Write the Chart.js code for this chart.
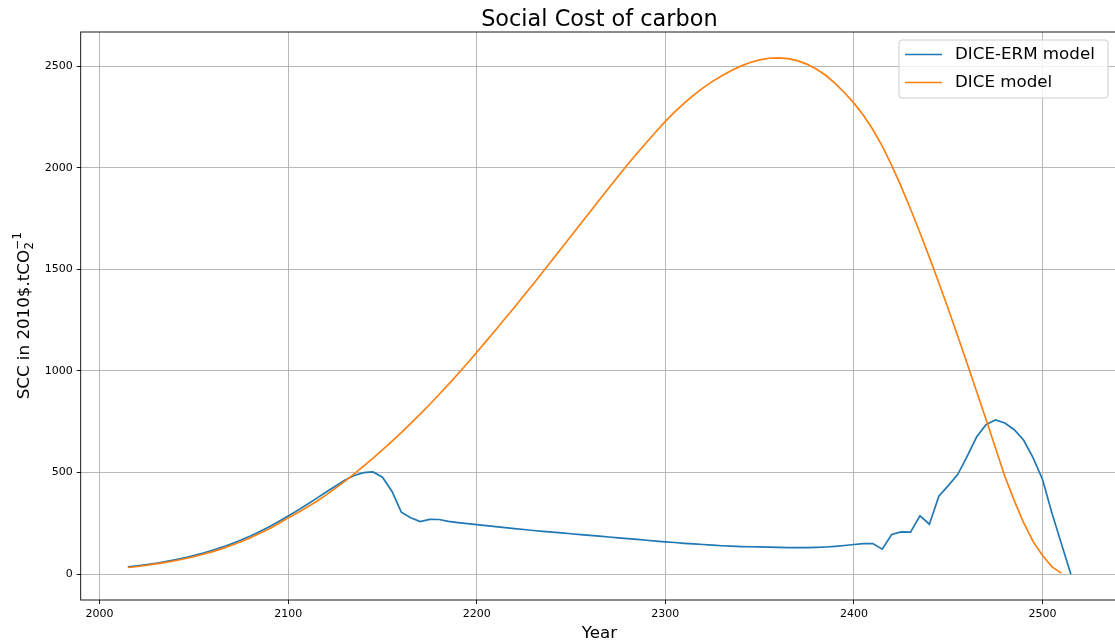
<!DOCTYPE html>
<html>
<head>
<meta charset="utf-8">
<script src="https://cdn.jsdelivr.net/npm/chart.js@4/dist/chart.umd.min.js"></script>
<style>
  html, body { margin: 0; padding: 0; overflow: hidden; background: #fff; width: 1115px; height: 644px; }
  canvas { display: block; }
</style>
</head>
<body>
<canvas id="scc" width="1120" height="644"></canvas>
<script>
// Model periods (5-year steps)
const years = [
  2015, 2020, 2025, 2030, 2035, 2040, 2045, 2050, 2055, 2060,
  2065, 2070, 2075, 2080, 2085, 2090, 2095, 2100, 2105, 2110,
  2115, 2120, 2125, 2130, 2135, 2140, 2145, 2150, 2155, 2160,
  2165, 2170, 2175, 2180, 2185, 2190, 2195, 2200, 2205, 2210,
  2215, 2220, 2225, 2230, 2235, 2240, 2245, 2250, 2255, 2260,
  2265, 2270, 2275, 2280, 2285, 2290, 2295, 2300, 2305, 2310,
  2315, 2320, 2325, 2330, 2335, 2340, 2345, 2350, 2355, 2360,
  2365, 2370, 2375, 2380, 2385, 2390, 2395, 2400, 2405, 2410,
  2415, 2420, 2425, 2430, 2435, 2440, 2445, 2450, 2455, 2460,
  2465, 2470, 2475, 2480, 2485, 2490, 2495, 2500, 2505, 2510,
  2515
];

// Social cost of carbon, 2010$ per tCO2 — DICE-ERM model (2015..2515)
const sccDiceErm = [
   36,  41,  47,  54,  62,  71,  81,  92, 104, 118,
  133, 150, 168, 188, 210, 234, 259, 286, 314, 343,
  373, 403, 433, 462, 486, 500, 503, 477, 408, 305,
  278, 259, 270, 269, 260, 254, 249, 244, 239, 234,
  229, 224, 220, 215, 211, 207, 203, 199, 195, 191,
  187, 183, 179, 175, 171, 167, 163, 159, 156, 152,
  149, 146, 143, 140, 138, 136, 135, 134, 133, 132,
  131, 131, 131, 132, 134, 137, 141, 146, 150, 151,
  123, 195, 208, 207, 287, 246, 384, 436, 490, 580,
  675, 736, 759, 744, 711, 659, 572, 466, 300, 150,
    0
];

// Social cost of carbon, 2010$ per tCO2 — DICE model (2015..2510)
const sccDice = [
    33,   38,   44,   51,   58,   66,   76,   86,   98,  111,
   126,  142,  160,  179,  201,  224,  249,  277,  302,  329,
   358,  389,  422,  457,  494,  532,  571,  612,  654,  697,
   742,  788,  835,  884,  934,  985, 1038, 1092, 1147, 1202,
  1258, 1314, 1371, 1428, 1487, 1546, 1605, 1664, 1723, 1782,
  1841, 1900, 1958, 2016, 2071, 2124, 2177, 2228, 2275, 2318,
  2357, 2393, 2425, 2453, 2478, 2500, 2518, 2531, 2539, 2541,
  2537, 2527, 2510, 2486, 2455, 2415, 2369, 2318, 2258, 2188,
  2106, 2012, 1908, 1797, 1680, 1559, 1434, 1305, 1172, 1037,
   900,  762,  622,  482,  362,  252,  160,   92,   36,    5
];

const seriesNames = ['DICE-ERM model', 'DICE model'];
const seriesColors = ['#1f77b4', '#ff7f0e'];
const xTicks = [2000, 2100, 2200, 2300, 2400, 2500];
const yTicks = [0, 500, 1000, 1500, 2000, 2500];
const titleText = 'Social Cost of carbon';
const xTitle = 'Year';
const yTitleMain = 'SCC in 2010$.tCO';
const yTitleSub = '2';
const yTitleSup = '\u22121';

const FONT = '"DejaVu Sans", "Liberation Sans", sans-serif';

function toPoints(values) {
  return values.map((v, i) => ({ x: years[i], y: v }));
}

// Axes frame, titles and legend box
const decorations = {
  id: 'decorations',
  afterDraw(chart) {
    const { ctx, chartArea: a } = chart;
    ctx.save();

    // frame (spines)
    ctx.strokeStyle = '#000';
    ctx.lineWidth = 0.9;
    ctx.strokeRect(a.left, a.top, a.right - a.left, a.bottom - a.top);

    // title
    ctx.fillStyle = '#000';
    ctx.font = '22.4px ' + FONT;
    ctx.textAlign = 'center';
    ctx.textBaseline = 'alphabetic';
    ctx.fillText(titleText, (a.left + a.right) / 2, 25.5);

    // x axis title
    ctx.font = '16.7px ' + FONT;
    ctx.fillText(xTitle, (a.left + a.right) / 2, 638);

    // y axis title with subscript / superscript
    ctx.save();
    ctx.translate(28.5, (a.top + a.bottom) / 2);
    ctx.rotate(-Math.PI / 2);
    ctx.textAlign = 'left';
    ctx.font = '16.7px ' + FONT;
    const wMain = ctx.measureText(yTitleMain).width;
    ctx.font = '11.7px ' + FONT;
    const wSub = ctx.measureText(yTitleSub).width;
    const wSup = ctx.measureText(yTitleSup).width;
    const total = wMain + Math.max(wSub, wSup);
    const x0 = -total / 2;
    ctx.font = '16.7px ' + FONT;
    ctx.fillText(yTitleMain, x0, 0);
    ctx.font = '11.7px ' + FONT;
    ctx.fillText(yTitleSub, x0 + wMain + 0.5, 4.5);
    ctx.fillText(yTitleSup, x0 + wMain + 0.5, -8);
    ctx.restore();

    // legend
    const bx = 899, by = 40, bw = 209, bh = 58, r = 3;
    ctx.beginPath();
    ctx.moveTo(bx + r, by);
    ctx.lineTo(bx + bw - r, by);
    ctx.quadraticCurveTo(bx + bw, by, bx + bw, by + r);
    ctx.lineTo(bx + bw, by + bh - r);
    ctx.quadraticCurveTo(bx + bw, by + bh, bx + bw - r, by + bh);
    ctx.lineTo(bx + r, by + bh);
    ctx.quadraticCurveTo(bx, by + bh, bx, by + bh - r);
    ctx.lineTo(bx, by + r);
    ctx.quadraticCurveTo(bx, by, bx + r, by);
    ctx.closePath();
    ctx.fillStyle = 'rgba(255,255,255,0.8)';
    ctx.fill();
    ctx.strokeStyle = '#cccccc';
    ctx.lineWidth = 1;
    ctx.stroke();

    ctx.font = '16.7px ' + FONT;
    ctx.textAlign = 'left';
    ctx.textBaseline = 'middle';
    chart.data.datasets.forEach((ds, i) => {
      const y = 54.5 + i * 28;
      ctx.strokeStyle = ds.borderColor;
      ctx.lineWidth = 1.67;
      ctx.beginPath();
      ctx.moveTo(905, y);
      ctx.lineTo(942, y);
      ctx.stroke();
      ctx.fillStyle = '#000';
      ctx.fillText(ds.label, 955, y + 0.5);
    });

    ctx.restore();
  }
};

new Chart(document.getElementById('scc'), {
  type: 'line',
  data: {
    datasets: [
      {
        label: seriesNames[0],
        data: toPoints(sccDiceErm),
        borderColor: seriesColors[0],
        backgroundColor: seriesColors[0],
        borderWidth: 1.67,
        pointRadius: 0,
        tension: 0,
        fill: false,
        order: 1
      },
      {
        label: seriesNames[1],
        data: toPoints(sccDice),
        borderColor: seriesColors[1],
        backgroundColor: seriesColors[1],
        borderWidth: 1.67,
        pointRadius: 0,
        tension: 0,
        fill: false,
        order: 0
      }
    ]
  },
  options: {
    responsive: false,
    animation: false,
    devicePixelRatio: 1,
    layout: { padding: { top: 32, right: 2, left: 0, bottom: 0 } },
    plugins: {
      legend: { display: false },
      tooltip: { enabled: false },
      title: { display: false }
    },
    scales: {
      x: {
        type: 'linear',
        min: 1990,
        max: 2540,
        afterBuildTicks: s => { s.ticks = xTicks.map(v => ({ value: v })); },
        afterFit: s => { s.height = 44; },
        border: { display: false },
        grid: { color: '#b0b0b0', lineWidth: 0.9, tickLength: 4, tickColor: '#000' },
        ticks: {
          font: { family: FONT, size: 11 },
          color: '#000',
          padding: 4,
          maxRotation: 0,
          autoSkip: false,
          callback: v => String(v)
        }
      },
      y: {
        type: 'linear',
        min: -127,
        max: 2668,
        afterBuildTicks: s => { s.ticks = yTicks.map(v => ({ value: v })); },
        afterFit: s => { s.width = 80.7; },
        border: { display: false },
        grid: { color: '#b0b0b0', lineWidth: 0.9, tickLength: 4, tickColor: '#000' },
        ticks: {
          font: { family: FONT, size: 11 },
          color: '#000',
          padding: 4,
          autoSkip: false,
          callback: v => String(v)
        }
      }
    }
  },
  plugins: [decorations]
});
</script>
</body>
</html>
